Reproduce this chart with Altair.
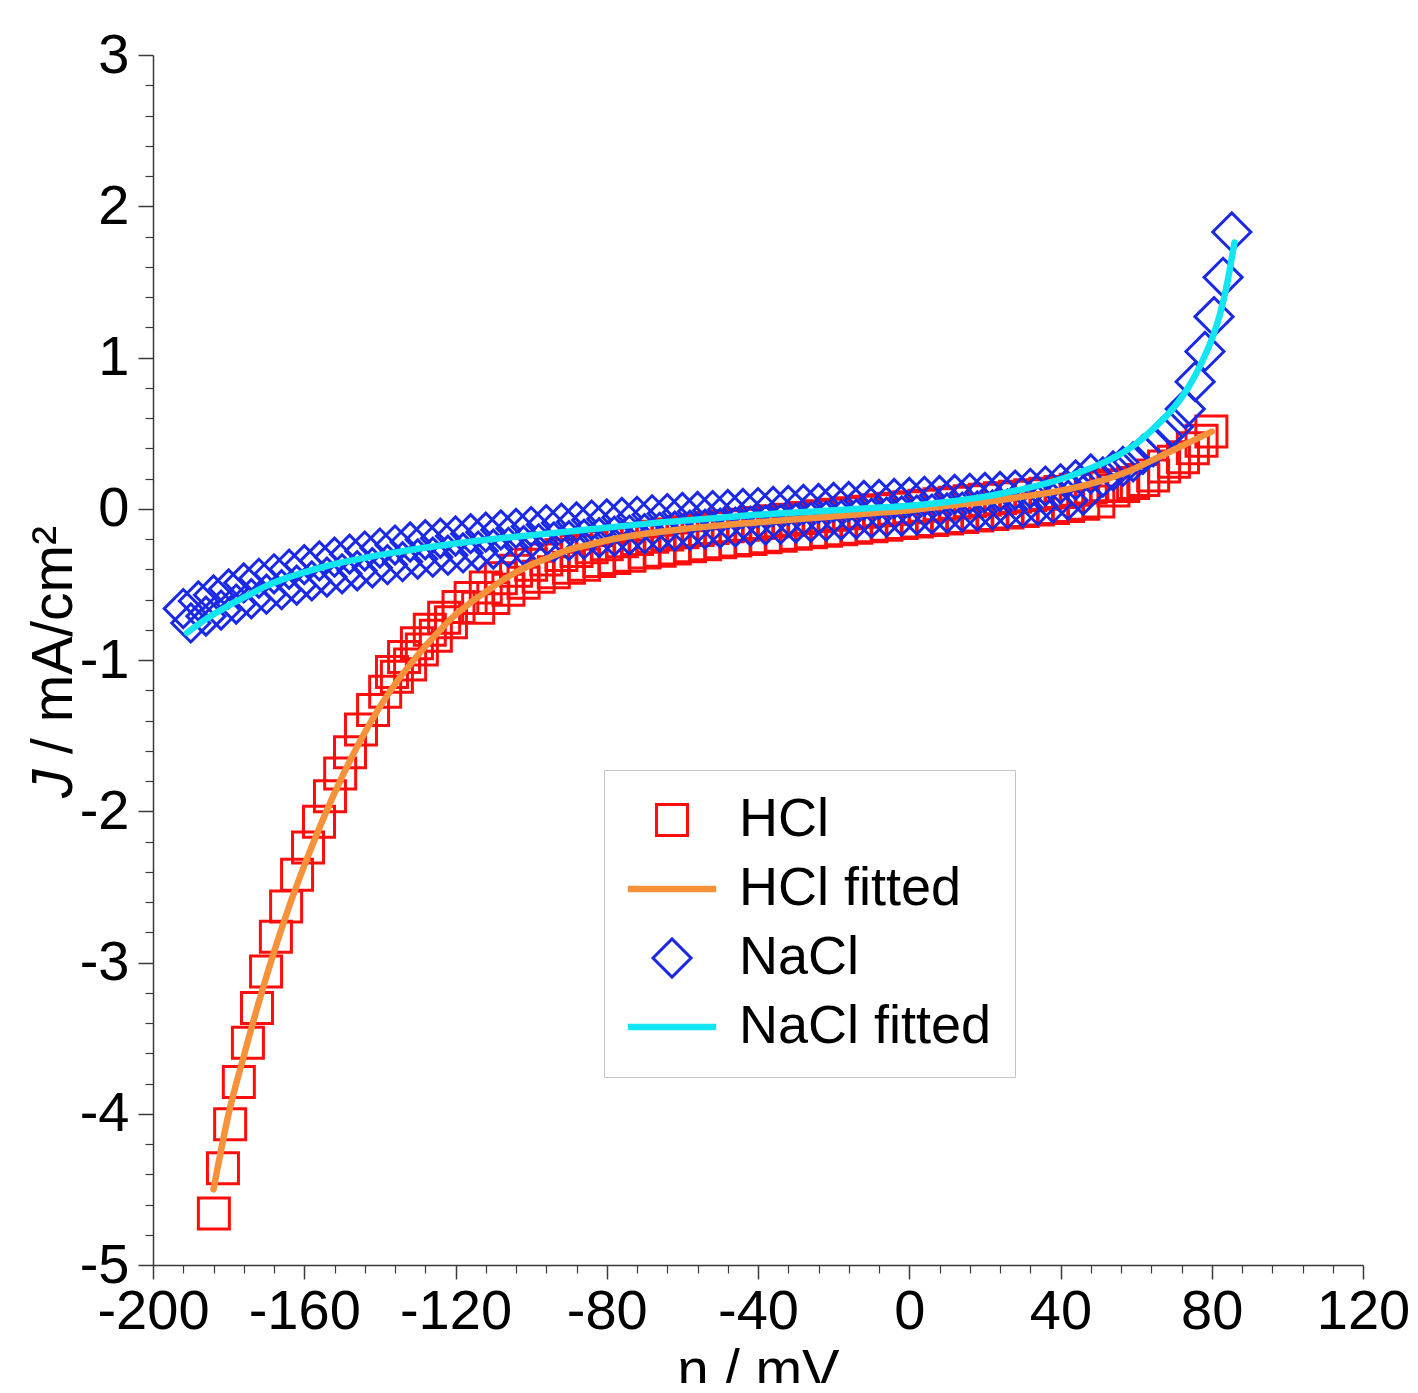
import altair as alt
import pandas as pd

FONT = "Liberation Sans"

# ---------------- data ----------------
# HCl measured (squares): steep cathodic branch
hcl_branch_x = [-183.9, -181.5, -179.6, -177.3, -174.9, -172.5, -170.1, -167.5, -164.8, -161.9,
                -159.0, -156.1, -153.2, -150.5, -147.9, -145.0, -141.8, -138.6, -135.5, -132.0,
                -128.9, -125.2, -121.2, -136.8, -133.6, -130.2, -126.8, -123.0, -119.2]
hcl_branch_y = [-4.66, -4.36, -4.07, -3.79, -3.53, -3.30, -3.06, -2.83, -2.63, -2.42,
                -2.24, -2.07, -1.90, -1.75, -1.61, -1.46, -1.33, -1.21, -1.11, -1.03,
                -0.93, -0.84, -0.75, -1.08, -0.98, -0.89, -0.80, -0.72, -0.65]
# HCl measured, upper row of the flat region
hcl_upper_x = [-116, -112, -108, -104, -100, -96, -92, -88, -84, -80, -76, -72, -68, -64, -60,
               -56, -52, -48, -44, -40, -36, -32, -28, -24, -20, -16, -12, -8, -4, 0, 4, 8, 12,
               16, 20, 24, 28, 32, 36, 40, 44, 48, 52]
hcl_upper_y = [-0.59, -0.52, -0.46, -0.41, -0.37, -0.335, -0.305, -0.28, -0.255, -0.235, -0.215,
               -0.20, -0.185, -0.17, -0.155, -0.14, -0.128, -0.116, -0.105, -0.094, -0.083,
               -0.072, -0.061, -0.05, -0.04, -0.03, -0.02, -0.01, 0.0, 0.01, 0.02, 0.03, 0.04,
               0.05, 0.06, 0.07, 0.08, 0.09, 0.10, 0.11, 0.125, 0.14, 0.155]
# HCl measured, lower row of the flat region
hcl_lower_x = [-114, -110, -106, -102, -98, -94, -90, -86, -82, -78, -74, -70, -66, -62, -58,
               -54, -50, -46, -42, -38, -34, -30, -26, -22, -18, -14, -10, -6, -2, 2, 6, 10, 14,
               18, 22, 26, 30, 34, 38, 42, 46, 50]
hcl_lower_y = [-0.655, -0.59, -0.535, -0.49, -0.45, -0.42, -0.39, -0.37, -0.345, -0.325, -0.31,
               -0.29, -0.278, -0.263, -0.248, -0.234, -0.222, -0.21, -0.20, -0.188, -0.178,
               -0.166, -0.155, -0.145, -0.135, -0.125, -0.115, -0.105, -0.095, -0.085, -0.075,
               -0.065, -0.055, -0.045, -0.035, -0.025, -0.015, -0.005, 0.005, 0.018, 0.033, 0.048]
# HCl measured, anodic end
hcl_tail_x = [54.0, 56.6, 59.2, 61.9, 64.5, 67.4, 70.0, 72.4, 75.0, 77.3, 79.9]
hcl_tail_y = [0.12, 0.15, 0.17, 0.19, 0.22, 0.28, 0.31, 0.34, 0.40, 0.45, 0.51]

# NaCl measured (diamonds), upper row
nacl_upper_x = [-192, -188, -184, -180, -176, -172, -168, -164, -160, -156, -152, -148, -144,
                -140, -136, -132, -128, -124, -120, -116, -112, -108, -104, -100, -96, -92, -88,
                -84, -80, -76, -72, -68, -64, -60, -56, -52, -48, -44, -40, -36, -32, -28, -24,
                -20, -16, -12, -8, -4, 0, 4, 8, 12, 16, 20, 24, 28, 32, 36, 40, 44, 48]
nacl_upper_y = [-0.66, -0.61, -0.57, -0.53, -0.49, -0.46, -0.43, -0.40, -0.37, -0.345,
                -0.32, -0.30, -0.28, -0.26, -0.24, -0.22, -0.205, -0.195, -0.18, -0.165,
                -0.155, -0.14, -0.13, -0.118, -0.105, -0.095, -0.087, -0.075, -0.067, -0.058,
                -0.05, -0.04, -0.032, -0.025, -0.018, -0.012, -0.005, 0.002, 0.008, 0.015,
                0.022, 0.028, 0.035, 0.042, 0.048, 0.055, 0.062, 0.068, 0.075, 0.082,
                0.088, 0.095, 0.102, 0.108, 0.115, 0.123, 0.135, 0.15, 0.165, 0.19, 0.23]
# NaCl measured, lower row
nacl_lower_x = [-190, -186, -182, -178, -174, -170, -166, -162, -158, -154, -150, -146, -142,
                -138, -134, -130, -126, -122, -118, -114, -110, -106, -102, -98, -94, -90, -86,
                -82, -78, -74, -70, -66, -62, -58, -54, -50, -46, -42, -38, -34, -30, -26, -22,
                -18, -14, -10, -6, -2, 2, 6, 10, 14, 18, 22, 26, 30, 34, 38, 42, 46]
nacl_lower_y = [-0.755, -0.71, -0.67, -0.63, -0.595, -0.565, -0.535, -0.505, -0.477, -0.452,
                -0.43, -0.41, -0.39, -0.37, -0.35, -0.332, -0.32, -0.307, -0.292, -0.28,
                -0.267, -0.255, -0.244, -0.232, -0.22, -0.211, -0.201, -0.191, -0.182, -0.174,
                -0.165, -0.156, -0.148, -0.142, -0.135, -0.128, -0.122, -0.115, -0.108, -0.102,
                -0.095, -0.088, -0.082, -0.075, -0.068, -0.062, -0.055, -0.048, -0.042, -0.035,
                -0.028, -0.022, -0.015, -0.008, -0.001, 0.009, 0.022, 0.037, 0.057, 0.09]
# NaCl measured, anodic end
nacl_tail_x = [51.2, 53.9, 56.5, 59.2, 61.8, 64.5, 67.1, 69.8, 73.0, 75.6, 78.2, 80.6, 83.0, 85.3]
nacl_tail_y = [0.21, 0.25, 0.28, 0.31, 0.36, 0.41, 0.48, 0.54, 0.66, 0.84, 1.04, 1.27, 1.53, 1.83]

# fitted curves
hcl_fit_x = [-184, -180, -176, -172, -168, -164, -160, -156, -152, -148, -144, -140, -136, -132,
             -128, -124, -120, -116, -112, -108, -104, -100, -95, -90, -85, -80, -75, -70, -65,
             -60, -50, -40, -30, -20, -10, 0, 10, 20, 30, 40, 50, 55, 60, 65, 70, 75, 80]
hcl_fit_y = [-4.50, -4.00, -3.62, -3.26, -2.93, -2.63, -2.36, -2.11, -1.88, -1.67, -1.48, -1.31,
             -1.16, -1.03, -0.91, -0.80, -0.70, -0.62, -0.55, -0.48, -0.42, -0.37, -0.32, -0.27,
             -0.24, -0.21, -0.185, -0.165, -0.15, -0.135, -0.11, -0.09, -0.07, -0.05, -0.03,
             -0.01, 0.02, 0.045, 0.08, 0.12, 0.18, 0.22, 0.27, 0.33, 0.39, 0.45, 0.51]
nacl_fit_x = [-191, -186, -180, -175, -170, -165, -160, -155, -150, -145, -140, -135, -130, -120,
              -110, -100, -90, -80, -70, -60, -50, -40, -30, -20, -10, 0, 10, 20, 30, 40, 45, 50,
              55, 60, 65, 70, 74, 77, 80, 82, 84, 86]
nacl_fit_y = [-0.82, -0.73, -0.64, -0.575, -0.51, -0.46, -0.42, -0.385, -0.355, -0.33, -0.305,
              -0.285, -0.265, -0.23, -0.20, -0.175, -0.15, -0.125, -0.10, -0.08, -0.06, -0.04,
              -0.025, -0.01, 0.005, 0.02, 0.045, 0.08, 0.13, 0.195, 0.24, 0.29, 0.35, 0.43, 0.54,
              0.67, 0.81, 0.95, 1.12, 1.27, 1.48, 1.76]

series_names = ["HCl", "HCl fitted", "NaCl", "NaCl fitted"]
series_colors = ["#ff0d0d", "#f7923a", "#1a28e8", "#12e6f2"]
LINE_PATH = "M-2.85,0H2.85"
series_shapes = ["square", LINE_PATH, "diamond", LINE_PATH]
series_sizes = [961, 961, 1450, 961]
series_widths = [3, 6.5, 3, 6.5]

# ---------------- tables ----------------
def table(xs, ys, name):
    return pd.DataFrame({"eta": xs, "J": ys, "series": name})

pts = pd.concat([
    table(hcl_branch_x, hcl_branch_y, "HCl"),
    table(hcl_upper_x, hcl_upper_y, "HCl"),
    table(hcl_lower_x, hcl_lower_y, "HCl"),
    table(hcl_tail_x, hcl_tail_y, "HCl"),
    table(nacl_upper_x, nacl_upper_y, "NaCl"),
    table(nacl_lower_x, nacl_lower_y, "NaCl"),
    table(nacl_tail_x, nacl_tail_y, "NaCl"),
], ignore_index=True)
hcl_fit = table(hcl_fit_x, hcl_fit_y, "HCl fitted")
nacl_fit = table(nacl_fit_x, nacl_fit_y, "NaCl fitted")

# ---------------- scales / axes ----------------
x_scale = alt.Scale(domain=[-200, 120], nice=False, zero=False)
y_scale = alt.Scale(domain=[-5, 3], nice=False, zero=False)
color = alt.Color("series:N", scale=alt.Scale(domain=series_names, range=series_colors),
                  legend=alt.Legend(orient="none", legendX=451, legendY=715, title=None,
                                    labelFontSize=54, labelFont=FONT, labelColor="black",
                                    strokeColor="#c4c4c4", fillColor="white", padding=23,
                                    rowPadding=15, labelOffset=40, symbolOffset=18,
                                    symbolOpacity=1, labelLimit=600))
sw_leg = alt.StrokeWidth("series:N", scale=alt.Scale(domain=series_names, range=series_widths,
                                                     type="ordinal"))

major_x = [-200, -160, -120, -80, -40, 0, 40, 80, 120]
minor_x = [v for v in range(-200, 121, 8) if v % 40 != 0]
major_y = [-5, -4, -3, -2, -1, 0, 1, 2, 3]
minor_y = [round(-5 + 0.2 * i, 1) for i in range(41) if i % 5 != 0]

axis_common = dict(labelFontSize=56, labelFont=FONT, labelColor="black", tickColor="#3a3a3a",
                   tickWidth=1.5, domainColor="#3a3a3a", domainWidth=1.5, grid=False,
                   labelFlush=False, labelOverlap=False, labelExpr="toString(datum.value)")
x_axis = alt.Axis(values=major_x, orient="bottom", title="η / mV", tickSize=14, labelPadding=5,
                  titleFontSize=56, titleFont=FONT, titleFontWeight="normal", titleColor="black",
                  titlePadding=4, **axis_common)
y_axis = alt.Axis(values=major_y, orient="left", title=None, tickSize=15, labelPadding=9,
                  **axis_common)
x_minor = alt.Axis(values=minor_x, orient="bottom", title=None, labels=False, domain=False,
                   tickSize=8, tickColor="#3a3a3a", tickWidth=1.2, grid=False)
y_minor = alt.Axis(values=minor_y, orient="left", title=None, labels=False, domain=False,
                   tickSize=8, tickColor="#3a3a3a", tickWidth=1.2, grid=False)

points = alt.Chart(pts).mark_point(filled=False, opacity=1).encode(
    x=alt.X("eta:Q", scale=x_scale, axis=x_axis),
    y=alt.Y("J:Q", scale=y_scale, axis=y_axis),
    color=color,
    shape=alt.Shape("series:N", scale=alt.Scale(domain=series_names, range=series_shapes)),
    size=alt.Size("series:N", scale=alt.Scale(domain=series_names, range=series_sizes,
                                               type="ordinal")),
    strokeWidth=sw_leg,
)

minor = alt.Chart(pts).mark_point(opacity=0).encode(
    x=alt.X("eta:Q", scale=x_scale, axis=x_minor),
    y=alt.Y("J:Q", scale=y_scale, axis=y_minor),
)

def fit_layer(df):
    return alt.Chart(df).mark_line(strokeCap="round", strokeJoin="round", interpolate="monotone").encode(
        x=alt.X("eta:Q", scale=x_scale, axis=None),
        y=alt.Y("J:Q", scale=y_scale, axis=None),
        color=color,
        strokeWidth=sw_leg,
    )

one = pd.DataFrame({"k": [0]})
title_j = alt.Chart(one).mark_text(text="J", font=FONT, fontSize=57, fontStyle="italic",
                                   angle=270, align="left", baseline="alphabetic",
                                   color="black").encode(x=alt.value(-81), y=alt.value(743))
title_rest = alt.Chart(one).mark_text(text="/ mA/cm²", font=FONT, fontSize=57, angle=270,
                                      align="left", baseline="alphabetic",
                                      color="black").encode(x=alt.value(-81), y=alt.value(699))

chart = alt.layer(points, minor, fit_layer(hcl_fit), fit_layer(nacl_fit), title_j, title_rest).resolve_axis(
    x="independent", y="independent"
).properties(
    width=1210, height=1210,
    autosize=alt.AutoSizeParams(type="none"),
    padding={"left": 145, "top": 47, "right": 47, "bottom": 118},
    background="white",
).configure_view(stroke=None)

chart.save("out.html", embed_options={"renderer": "svg", "actions": False})
